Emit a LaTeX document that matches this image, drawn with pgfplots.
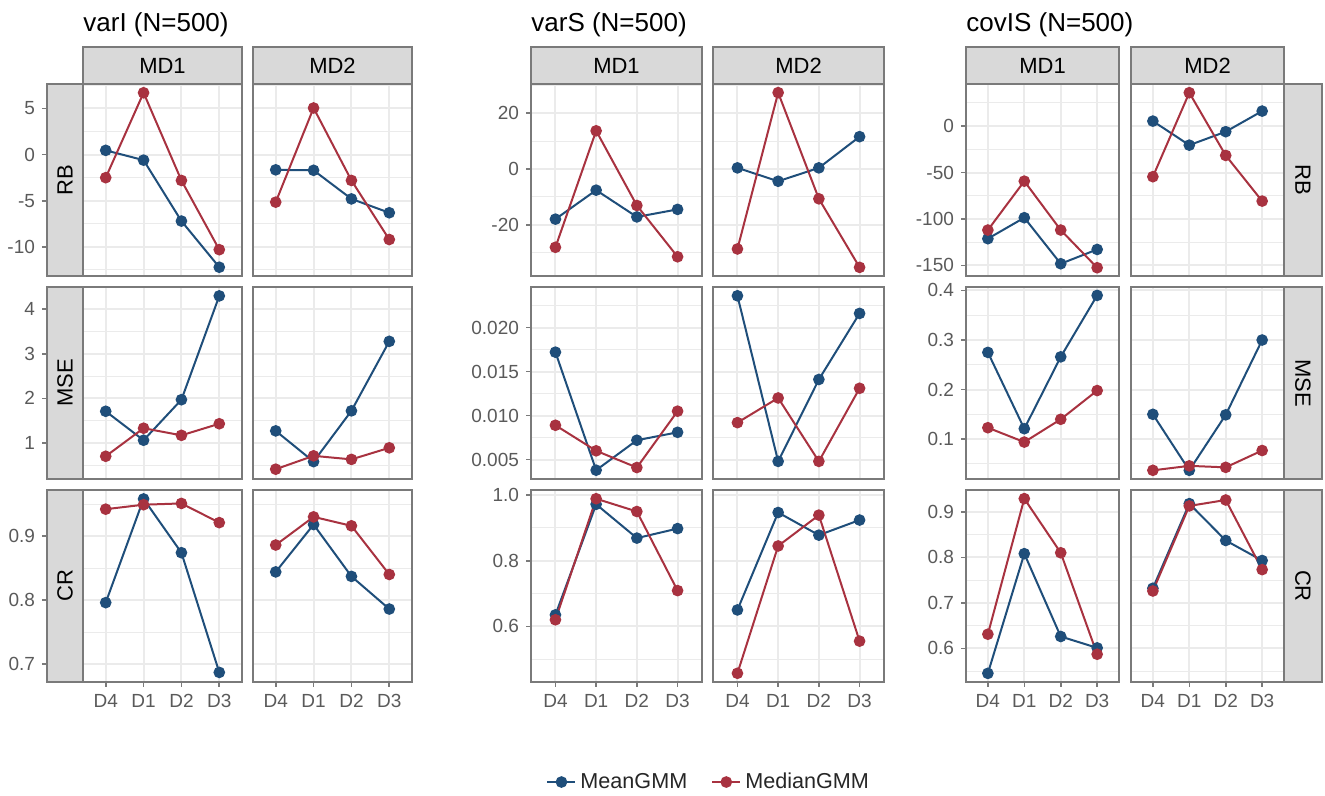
\documentclass[border=0pt]{standalone}
\usepackage{pgfplots}
\pgfplotsset{compat=1.18}
\usepackage{fontspec}
\setmainfont{Liberation Sans}

\definecolor{meanc}{HTML}{1F4E7A}
\definecolor{medc}{HTML}{A83240}
\definecolor{gridc}{HTML}{EBEBEB}
\definecolor{framec}{HTML}{7A7A7A}
\definecolor{stripc}{HTML}{D9D9D9}
\definecolor{tickc}{HTML}{5A5A5A}

\newcommand{\tickfont}{\fontsize{9.5}{11}\selectfont}
\newcommand{\stripfont}{\fontsize{11}{12}\selectfont}

\pgfplotsset{
  panel/.style={scale only axis, width=#1, height=96pt, anchor=south west,
    xmin=0.4, xmax=4.6, xtick={1,2,3,4}, xticklabels={D4,D1,D2,D3},
    grid=both, major grid style={line width=1pt, gridc},
    minor grid style={line width=0.5pt, gridc},
    axis line style={framec, line width=0.8pt},
    tick align=outside, tick pos=left, major tick length=2.5pt,
    minor tick length=0pt, minor tick style={draw=none},
    tick style={framec, line width=0.8pt},
    ticklabel style={font=\tickfont, text=tickc},
    scaled y ticks=false,
    clip=false,
    every axis plot/.append style={line width=1pt, mark=*, mark size=2.4pt}},
  nox/.style={xticklabels={}, xtick style={draw=none}},
  noy/.style={yticklabels={}, ytick style={draw=none}},
  side/.style={grid=none, axis line style={draw=none}, xtick=\empty, minor ytick={}},
  g1rb/.style={ymin=-13.15, ymax=7.65, ytick={-10,-5,0,5}, yticklabels={-10,-5,0,5}, minor ytick={-12.5,-7.5,-2.5,2.5,7.5}},
  g1mse/.style={ymin=0.19, ymax=4.5, ytick={1,2,3,4}, yticklabels={1,2,3,4}, minor ytick={0.5,1.5,2.5,3.5}},
  g1cr/.style={ymin=0.672, ymax=0.972, ytick={0.7,0.8,0.9}, yticklabels={0.7,0.8,0.9}, minor ytick={0.75,0.85,0.95}},
  g2rb/.style={ymin=-38.4, ymax=30.5, ytick={-20,0,20}, yticklabels={-20,0,20}, minor ytick={-30,-10,10,30}},
  g2mse/.style={ymin=0.0028, ymax=0.0246, ytick={0.005,0.01,0.015,0.02}, yticklabels={0.005,0.010,0.015,0.020}, minor ytick={0.0075,0.0125,0.0175,0.0225}},
  g2cr/.style={ymin=0.4304, ymax=1.0156, ytick={0.6,0.8,1.0}, yticklabels={0.6,0.8,1.0}, minor ytick={0.5,0.7,0.9}},
  g3rb/.style={ymin=-161.5, ymax=45.4, ytick={-150,-100,-50,0}, yticklabels={-150,-100,-50,0}, minor ytick={-125,-75,-25,25}},
  g3mse/.style={ymin=0.0195, ymax=0.407, ytick={0.1,0.2,0.3,0.4}, yticklabels={0.1,0.2,0.3,0.4}, minor ytick={0.05,0.15,0.25,0.35}},
  g3cr/.style={ymin=0.526, ymax=0.948, ytick={0.6,0.7,0.8,0.9}, yticklabels={0.6,0.7,0.8,0.9}, minor ytick={0.55,0.65,0.75,0.85}},
}

% strips drawn over the panels
\newcommand{\colstrip}[3]{%
  \draw[framec, line width=0.8pt, fill=stripc] (#1pt,356pt) rectangle (#2pt,374.5pt);
  \node[font=\stripfont] at ({(#1pt+#2pt)/2},365.25pt) {#3};}
\newcommand{\rowstrip}[6]{%
  \draw[framec, line width=0.8pt, fill=stripc] (#1pt,#3pt) rectangle (#2pt,#4pt);
  \node[font=\stripfont, rotate=#6] at ({(#1pt+#2pt)/2},{(#3pt+#4pt)/2}) {#5};}

\begin{document}
\begin{tikzpicture}
\useasboundingbox (0,0) rectangle (662.5pt,398pt);

% ---------------- varI ----------------
\begin{axis}[panel=18pt, at={(23.5pt,260pt)}, g1rb, side]\end{axis}
\begin{axis}[panel=18pt, at={(23.5pt,158.5pt)}, g1mse, side]\end{axis}
\begin{axis}[panel=18pt, at={(23.5pt,57pt)}, g1cr, side]\end{axis}

\begin{axis}[panel=79.5pt, at={(41.5pt,260pt)}, g1rb, nox, noy]
\addplot[meanc] coordinates {(1,0.46)(2,-0.6)(3,-7.2)(4,-12.2)};
\addplot[medc] coordinates {(1,-2.5)(2,6.7)(3,-2.8)(4,-10.3)};
\end{axis}
\begin{axis}[panel=79.5pt, at={(126.5pt,260pt)}, g1rb, nox, noy]
\addplot[meanc] coordinates {(1,-1.65)(2,-1.7)(3,-4.8)(4,-6.3)};
\addplot[medc] coordinates {(1,-5.15)(2,5.05)(3,-2.8)(4,-9.2)};
\end{axis}
\begin{axis}[panel=79.5pt, at={(41.5pt,158.5pt)}, g1mse, nox, noy]
\addplot[meanc] coordinates {(1,1.71)(2,1.06)(3,1.97)(4,4.30)};
\addplot[medc] coordinates {(1,0.70)(2,1.33)(3,1.17)(4,1.43)};
\end{axis}
\begin{axis}[panel=79.5pt, at={(126.5pt,158.5pt)}, g1mse, nox, noy]
\addplot[meanc] coordinates {(1,1.27)(2,0.58)(3,1.72)(4,3.28)};
\addplot[medc] coordinates {(1,0.41)(2,0.71)(3,0.63)(4,0.89)};
\end{axis}
\begin{axis}[panel=79.5pt, at={(41.5pt,57pt)}, g1cr, noy]
\addplot[meanc] coordinates {(1,0.796)(2,0.958)(3,0.874)(4,0.687)};
\addplot[medc] coordinates {(1,0.942)(2,0.949)(3,0.951)(4,0.921)};
\end{axis}
\begin{axis}[panel=79.5pt, at={(126.5pt,57pt)}, g1cr, noy]
\addplot[meanc] coordinates {(1,0.844)(2,0.918)(3,0.837)(4,0.786)};
\addplot[medc] coordinates {(1,0.886)(2,0.930)(3,0.916)(4,0.840)};
\end{axis}

% ---------------- varS ----------------
\begin{axis}[panel=85.5pt, at={(265.5pt,260pt)}, g2rb, nox]
\addplot[meanc] coordinates {(1,-18.0)(2,-7.6)(3,-17.2)(4,-14.5)};
\addplot[medc] coordinates {(1,-28.1)(2,13.7)(3,-13.1)(4,-31.5)};
\end{axis}
\begin{axis}[panel=85.5pt, at={(356.5pt,260pt)}, g2rb, nox, noy]
\addplot[meanc] coordinates {(1,0.4)(2,-4.4)(3,0.4)(4,11.6)};
\addplot[medc] coordinates {(1,-28.7)(2,27.4)(3,-10.7)(4,-35.3)};
\end{axis}
\begin{axis}[panel=85.5pt, at={(265.5pt,158.5pt)}, g2mse, nox]
\addplot[meanc] coordinates {(1,0.0172)(2,0.0038)(3,0.0072)(4,0.0081)};
\addplot[medc] coordinates {(1,0.0089)(2,0.0060)(3,0.0041)(4,0.0105)};
\end{axis}
\begin{axis}[panel=85.5pt, at={(356.5pt,158.5pt)}, g2mse, nox, noy]
\addplot[meanc] coordinates {(1,0.0236)(2,0.0048)(3,0.0141)(4,0.0216)};
\addplot[medc] coordinates {(1,0.0092)(2,0.0120)(3,0.0048)(4,0.0131)};
\end{axis}
\begin{axis}[panel=85.5pt, at={(265.5pt,57pt)}, g2cr,
  legend style={at={(1.045,-0.521)}, anchor=center, draw=none, fill=none,
    font=\fontsize{10.8}{12}\selectfont, text=black!85, legend columns=2,
    /tikz/every even column/.append style={column sep=10pt}},
  legend image code/.code={\draw[#1, mark repeat=2, mark phase=2] plot coordinates {(0pt,0pt) (7pt,0pt) (14pt,0pt)};}]
\addplot[meanc] coordinates {(1,0.635)(2,0.972)(3,0.869)(4,0.898)};
\addplot[medc] coordinates {(1,0.620)(2,0.989)(3,0.950)(4,0.709)};
\legend{MeanGMM,MedianGMM}
\end{axis}
\begin{axis}[panel=85.5pt, at={(356.5pt,57pt)}, g2cr, noy]
\addplot[meanc] coordinates {(1,0.650)(2,0.947)(3,0.878)(4,0.924)};
\addplot[medc] coordinates {(1,0.457)(2,0.845)(3,0.939)(4,0.555)};
\end{axis}

% ---------------- covIS ----------------
\begin{axis}[panel=76.5pt, at={(483pt,260pt)}, g3rb, nox]
\addplot[meanc] coordinates {(1,-121.3)(2,-98.7)(3,-148.3)(4,-132.9)};
\addplot[medc] coordinates {(1,-112)(2,-59.3)(3,-112)(4,-152.6)};
\end{axis}
\begin{axis}[panel=76.5pt, at={(565.5pt,260pt)}, g3rb, nox, noy]
\addplot[meanc] coordinates {(1,5.4)(2,-20.5)(3,-6.0)(4,16.2)};
\addplot[medc] coordinates {(1,-54.5)(2,36.0)(3,-31.6)(4,-80.8)};
\end{axis}
\begin{axis}[panel=76.5pt, at={(483pt,158.5pt)}, g3mse, nox]
\addplot[meanc] coordinates {(1,0.275)(2,0.121)(3,0.266)(4,0.390)};
\addplot[medc] coordinates {(1,0.123)(2,0.094)(3,0.140)(4,0.198)};
\end{axis}
\begin{axis}[panel=76.5pt, at={(565.5pt,158.5pt)}, g3mse, nox, noy]
\addplot[meanc] coordinates {(1,0.150)(2,0.037)(3,0.149)(4,0.300)};
\addplot[medc] coordinates {(1,0.037)(2,0.046)(3,0.043)(4,0.077)};
\end{axis}
\begin{axis}[panel=76.5pt, at={(483pt,57pt)}, g3cr]
\addplot[meanc] coordinates {(1,0.545)(2,0.808)(3,0.626)(4,0.601)};
\addplot[medc] coordinates {(1,0.631)(2,0.929)(3,0.810)(4,0.587)};
\end{axis}
\begin{axis}[panel=76.5pt, at={(565.5pt,57pt)}, g3cr, noy]
\addplot[meanc] coordinates {(1,0.732)(2,0.918)(3,0.837)(4,0.793)};
\addplot[medc] coordinates {(1,0.726)(2,0.913)(3,0.926)(4,0.773)};
\end{axis}

% ---------------- strips and titles ----------------
\colstrip{41.5}{121}{MD1}
\colstrip{126.5}{206}{MD2}
\colstrip{265.5}{351}{MD1}
\colstrip{356.5}{442}{MD2}
\colstrip{483}{559.5}{MD1}
\colstrip{565.5}{642}{MD2}

\rowstrip{23.5}{41.5}{260}{356}{RB}{90}
\rowstrip{23.5}{41.5}{158.5}{254.5}{MSE}{90}
\rowstrip{23.5}{41.5}{57}{153}{CR}{90}
\rowstrip{642}{661}{260}{356}{RB}{-90}
\rowstrip{642}{661}{158.5}{254.5}{MSE}{-90}
\rowstrip{642}{661}{57}{153}{CR}{-90}

\node[anchor=base west, font=\fontsize{13}{15}\selectfont, inner sep=0pt] at (41.5pt,382pt) {varI (N=500)};
\node[anchor=base west, font=\fontsize{13}{15}\selectfont, inner sep=0pt] at (265.5pt,382pt) {varS (N=500)};
\node[anchor=base west, font=\fontsize{13}{15}\selectfont, inner sep=0pt] at (483pt,382pt) {covIS (N=500)};
\end{tikzpicture}
\end{document}
